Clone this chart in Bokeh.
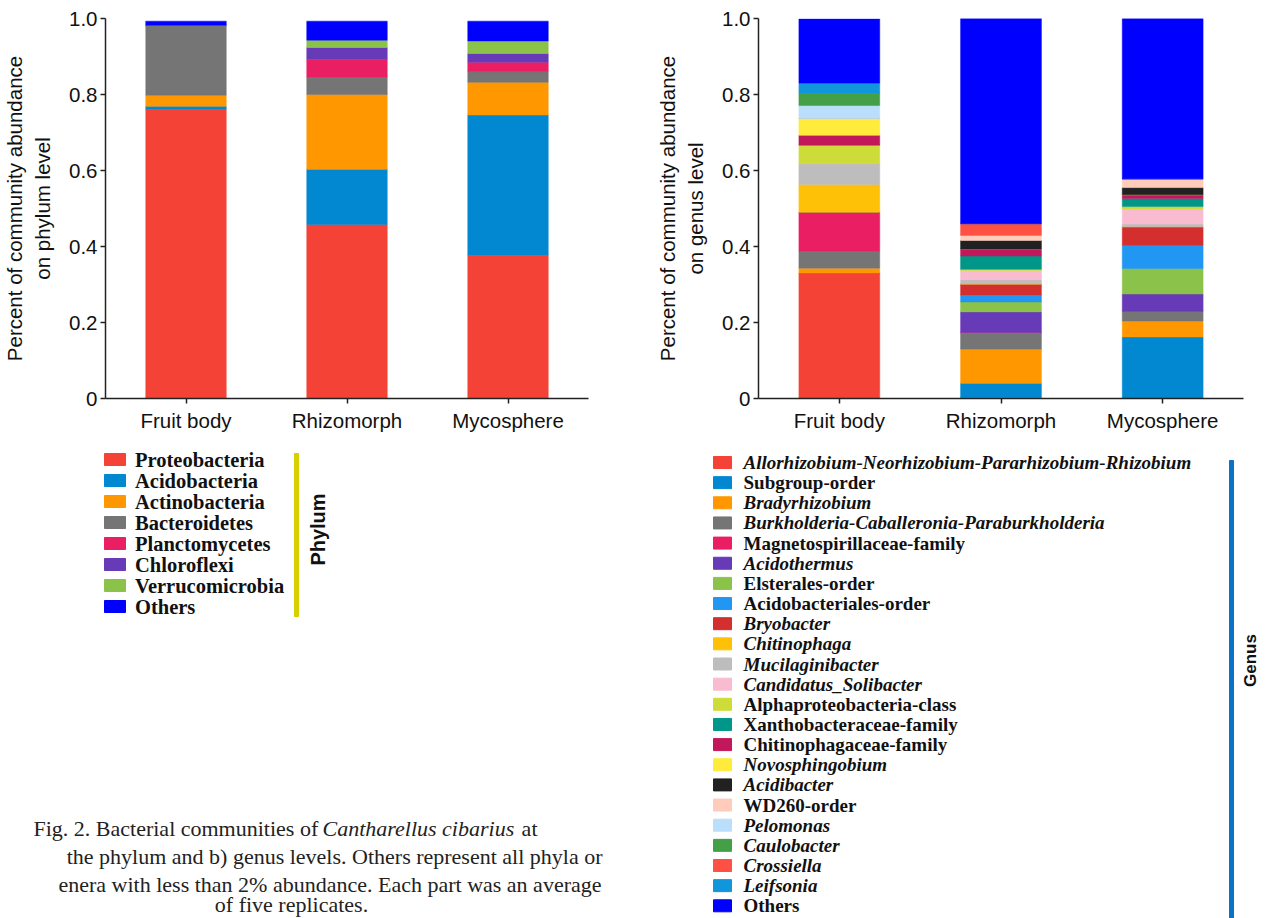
import math
from bokeh.plotting import figure
from bokeh.models import ColumnDataSource, FactorRange, Range1d, CustomJSTickFormatter, FixedTicker
from bokeh.layouts import row, column
from bokeh.core.properties import value
from bokeh.embed import file_html
from bokeh.resources import INLINE

# ---------------- data ----------------
samples = ["Fruit body", "Rhizomorph", "Mycosphere"]
y_ticks = [0, 0.2, 0.4, 0.6, 0.8, 1.0]

phylum_names = ["Proteobacteria", "Acidobacteria", "Actinobacteria", "Bacteroidetes",
                "Planctomycetes", "Chloroflexi", "Verrucomicrobia", "Others"]
proteobacteria = [0.761, 0.458, 0.377]
acidobacteria = [0.008, 0.145, 0.369]
actinobacteria = [0.029, 0.197, 0.086]
bacteroidetes = [0.184, 0.045, 0.028]
planctomycetes = [0.000, 0.048, 0.025]
chloroflexi = [0.000, 0.031, 0.023]
verrucomicrobia = [0.000, 0.019, 0.033]
phylum_others = [0.011, 0.050, 0.052]
phylum_values = [proteobacteria, acidobacteria, actinobacteria, bacteroidetes,
                 planctomycetes, chloroflexi, verrucomicrobia, phylum_others]
phylum_colors = ["#F44336", "#0288D1", "#FF9800", "#757575",
                 "#E91E63", "#673AB7", "#8BC34A", "#0000FF"]

genus_names = ["Allorhizobium-Neorhizobium-Pararhizobium-Rhizobium", "Subgroup-order",
               "Bradyrhizobium", "Burkholderia-Caballeronia-Paraburkholderia",
               "Magnetospirillaceae-family", "Acidothermus", "Elsterales-order",
               "Acidobacteriales-order", "Bryobacter", "Chitinophaga", "Mucilaginibacter",
               "Candidatus_Solibacter", "Alphaproteobacteria-class", "Xanthobacteraceae-family",
               "Chitinophagaceae-family", "Novosphingobium", "Acidibacter", "WD260-order",
               "Pelomonas", "Caulobacter", "Crossiella", "Leifsonia", "Others"]
genus_italic = [True, False, True, True, False, True, False, False, True, True, True,
                True, False, False, False, True, True, False, True, True, True, True, False]
allorhizobium = [0.330, 0.003, 0.000]
subgroup = [0.000, 0.037, 0.162]
bradyrhizobium = [0.013, 0.090, 0.042]
burkholderia = [0.044, 0.042, 0.026]
magnetospirillaceae = [0.103, 0.002, 0.000]
acidothermus = [0.000, 0.054, 0.045]
elsterales = [0.000, 0.026, 0.067]
acidobacteriales = [0.000, 0.018, 0.061]
bryobacter = [0.000, 0.029, 0.049]
chitinophaga = [0.073, 0.000, 0.000]
mucilaginibacter = [0.055, 0.011, 0.007]
candidatus_solibacter = [0.000, 0.025, 0.039]
alphaproteobacteria = [0.049, 0.003, 0.007]
xanthobacteraceae = [0.000, 0.035, 0.021]
chitinophagaceae = [0.026, 0.018, 0.010]
novosphingobium = [0.044, 0.000, 0.000]
acidibacter = [0.000, 0.023, 0.019]
wd260 = [0.000, 0.014, 0.023]
pelomonas = [0.034, 0.000, 0.000]
caulobacter = [0.032, 0.000, 0.000]
crossiella = [0.000, 0.030, 0.000]
leifsonia = [0.027, 0.000, 0.000]
genus_others = [0.169, 0.540, 0.422]
genus_values = [allorhizobium, subgroup, bradyrhizobium, burkholderia, magnetospirillaceae,
                acidothermus, elsterales, acidobacteriales, bryobacter, chitinophaga,
                mucilaginibacter, candidatus_solibacter, alphaproteobacteria, xanthobacteraceae,
                chitinophagaceae, novosphingobium, acidibacter, wd260, pelomonas, caulobacter,
                crossiella, leifsonia, genus_others]
genus_colors = ["#F44336", "#0288D1", "#FF9800", "#757575", "#E91E63", "#673AB7", "#8BC34A",
                "#2196F3", "#D32F2F", "#FFC107", "#BDBDBD", "#F8BBD0", "#CDDC39", "#009688",
                "#C2185B", "#FFEB3B", "#212121", "#FFCCBC", "#BBDEFB", "#43A047", "#FF5044",
                "#1195DB", "#0000FF"]

caption_lines = ["Fig. 2. Bacterial communities of", "Cantharellus cibarius", "at",
                 "the phylum and b) genus levels. Others represent all phyla or",
                 "enera with less than 2% abundance. Each part was an average",
                 "of five replicates."]

SANS = "Liberation Sans"
SERIF = "Liberation Serif"


def bar_chart(series, colors, ylabel, frame_w, b_left, b_right):
    data = {"sample": samples}
    keys = []
    for i, vals in enumerate(series):
        k = "s%d" % i
        data[k] = vals
        keys.append(k)
    src = ColumnDataSource(data)
    p = figure(x_range=FactorRange(factors=samples, range_padding=0), y_range=Range1d(0, 1.0),
               frame_width=frame_w, frame_height=380,
               min_border_left=b_left, min_border_right=b_right,
               min_border_top=18, min_border_bottom=50,
               toolbar_location=None, output_backend="svg")
    p.vbar_stack(keys, x="sample", width=0.5, color=colors, source=src, line_width=0.5)
    p.xgrid.visible = False
    p.ygrid.visible = False
    p.outline_line_color = None
    for ax in (p.xaxis[0], p.yaxis[0]):
        ax.axis_line_color = "#222222"
        ax.axis_line_width = 1.5
        ax.major_tick_line_color = "#222222"
        ax.major_tick_line_width = 1.5
        ax.major_tick_out = 5
        ax.major_tick_in = 0
        ax.minor_tick_out = 0
        ax.minor_tick_in = 0
        ax.major_label_text_font = SANS
        ax.major_label_text_font_size = "20.5px"
        ax.major_label_text_color = "#111111"
    p.yaxis.ticker = FixedTicker(ticks=y_ticks)
    p.yaxis.formatter = CustomJSTickFormatter(code="return tick == 0 ? '0' : tick.toFixed(1);")
    p.yaxis.major_label_standoff = 3
    p.xaxis.major_label_standoff = 5
    p.yaxis.axis_label = ylabel
    p.yaxis.axis_label_text_font = SANS
    p.yaxis.axis_label_text_font_style = "normal"
    p.yaxis.axis_label_text_font_size = "20.5px"
    p.yaxis.axis_label_text_color = "#111111"
    p.yaxis.axis_label_standoff = 12
    return p


def blank(w, h):
    p = figure(x_range=Range1d(0, w), y_range=Range1d(h, 0), frame_width=w, frame_height=h,
               min_border=0, x_axis_type=None, y_axis_type=None,
               toolbar_location=None, output_backend="svg")
    p.outline_line_color = None
    return p


LEG_H = 470
LEFT_W = 628
RIGHT_W = 634

# ---------------- charts ----------------
chart_l = bar_chart(phylum_values, phylum_colors,
                    "Percent of community abundance\non phylum level", 483, 105, 40)
chart_r = bar_chart(genus_values, genus_colors,
                    "Percent of community abundance\non genus level", 485, 130, 19)

# ---------------- left legend + caption ----------------
leg_l = blank(LEFT_W, LEG_H)
ys_l = [11 + 21 * i for i in range(len(phylum_names))]
leg_l.rect(x=114.5, y=ys_l, width=21, height=12, color=phylum_colors)
leg_l.text(x=134.5, y=ys_l, text=phylum_names, text_font=value(SERIF), text_font_style="bold",
           text_font_size="20.5px", text_baseline="middle", text_color="#111111")
leg_l.quad(left=[294], right=[298], top=[5], bottom=[168], color="#D8CF00")
leg_l.text(x=[317], y=[81], text=["Phylum"], angle=math.pi / 2, text_align="center",
           text_baseline="middle", text_font=value(SANS), text_font_style="bold",
           text_font_size="20px", text_color="#111111")

cap_font = dict(text_font=value(SERIF), text_font_size="22px", text_baseline="middle",
                text_color="#222222")
leg_l.text(x=[33], y=[380], text=[caption_lines[0]], text_align="left", **cap_font)
leg_l.text(x=[322], y=[380], text=[caption_lines[1]], text_align="left",
           text_font_style="italic", **cap_font)
leg_l.text(x=[537], y=[380], text=[caption_lines[2]], text_align="right", **cap_font)
leg_l.text(x=[602], y=[408], text=[caption_lines[3]], text_align="right", **cap_font)
leg_l.text(x=[601], y=[436], text=[caption_lines[4]], text_align="right", **cap_font)
leg_l.text(x=[291], y=[456], text=[caption_lines[5]], text_align="center", **cap_font)

# ---------------- right legend ----------------
leg_r = blank(RIGHT_W, LEG_H)
ys_r = [14 + 20.15 * i for i in range(len(genus_names))]
leg_r.rect(x=94, y=ys_r, width=18, height=12, color=genus_colors)
it_y = [y for y, it in zip(ys_r, genus_italic) if it]
it_t = [n for n, it in zip(genus_names, genus_italic) if it]
no_y = [y for y, it in zip(ys_r, genus_italic) if not it]
no_t = [n for n, it in zip(genus_names, genus_italic) if not it]
leg_r.text(x=115, y=it_y, text=it_t, text_font=value(SERIF), text_font_style="bold italic",
           text_font_size="19px", text_baseline="middle", text_color="#111111")
leg_r.text(x=115, y=no_y, text=no_t, text_font=value(SERIF), text_font_style="bold",
           text_font_size="19px", text_baseline="middle", text_color="#111111")
leg_r.quad(left=[601], right=[605], top=[12], bottom=[LEG_H], color="#0A72C8")
leg_r.text(x=[622], y=[212], text=["Genus"], angle=math.pi / 2, text_align="center",
           text_baseline="middle", text_font=value(SANS), text_font_style="bold",
           text_font_size="17px", text_color="#111111")

layout = column(row(chart_l, chart_r), row(leg_l, leg_r))
open("out.html", "w").write(file_html(layout, INLINE))
